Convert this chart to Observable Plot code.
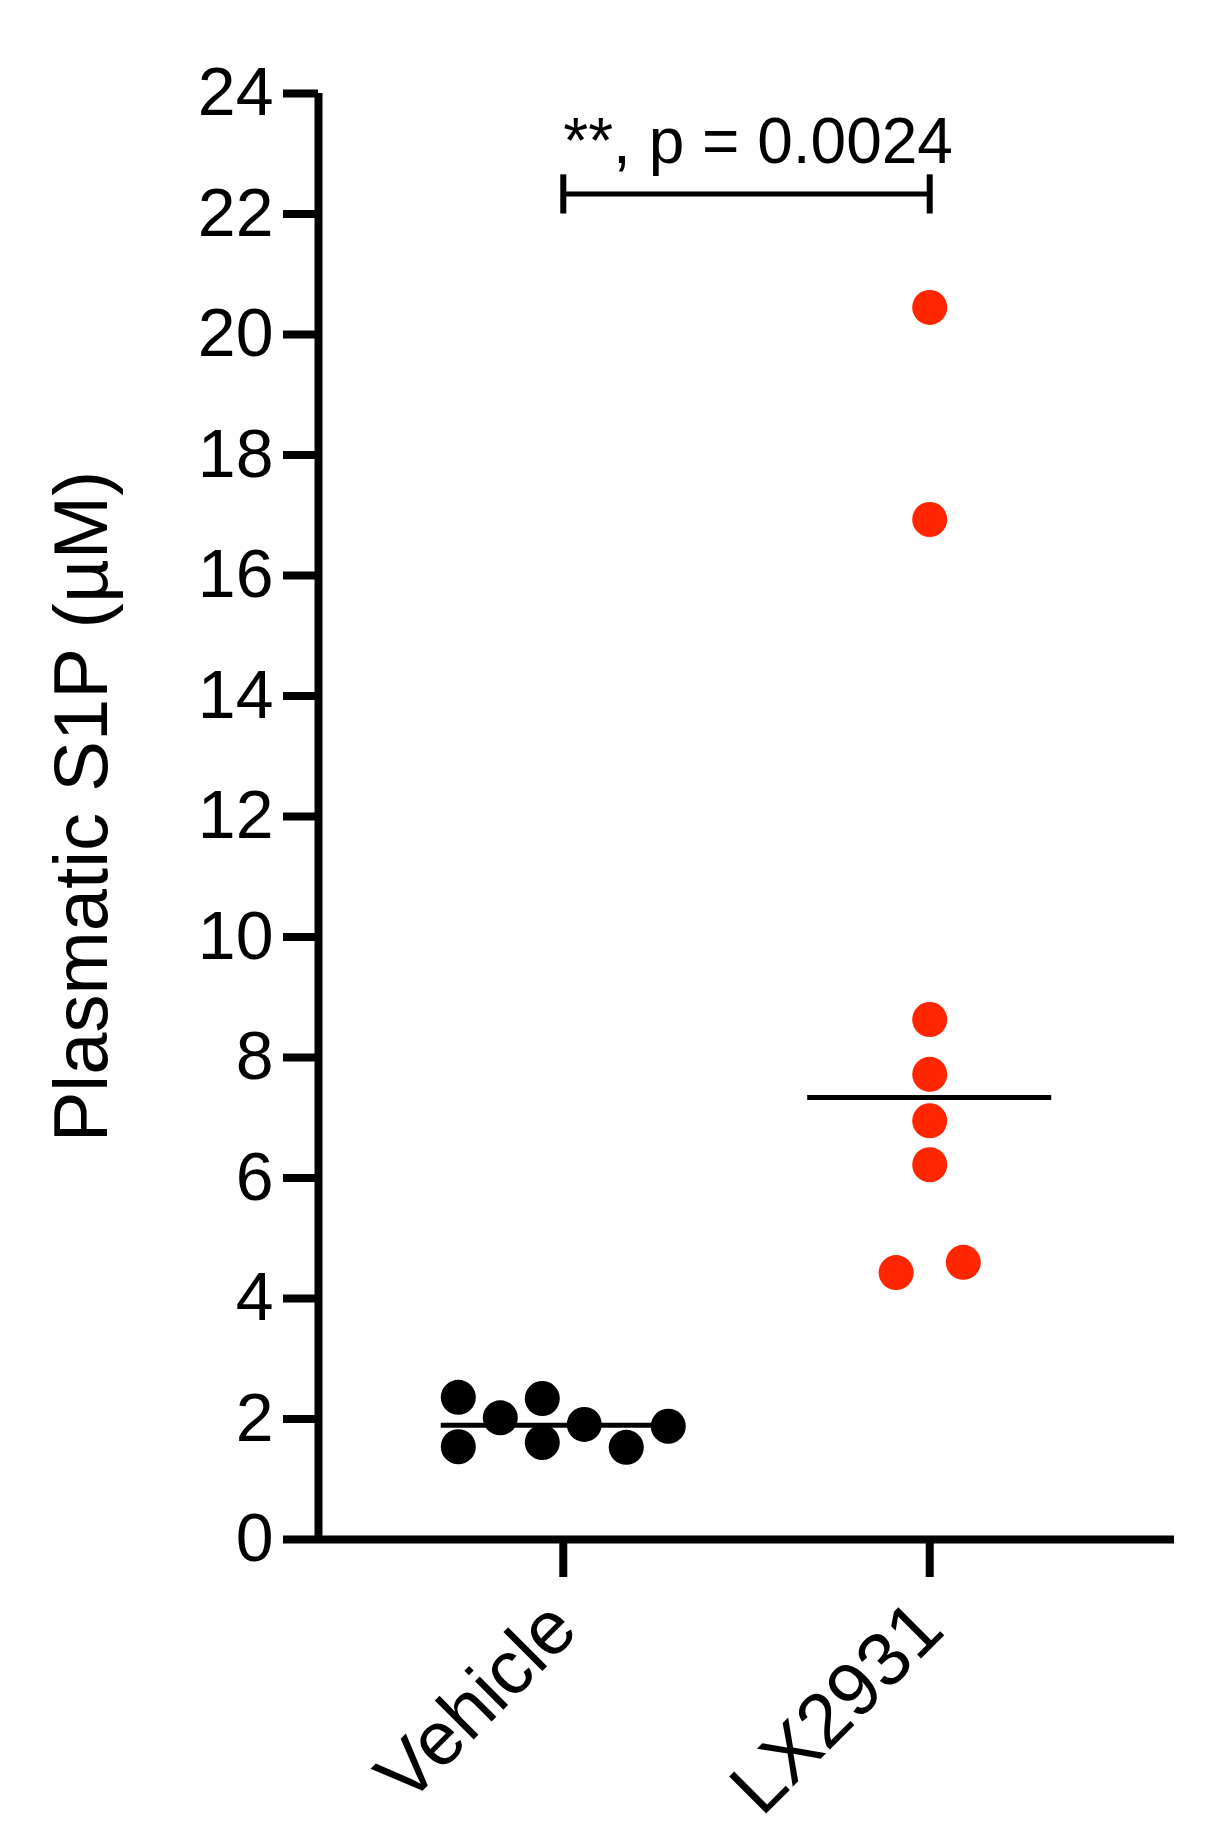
<!DOCTYPE html>
<html>
<head>
<meta charset="utf-8">
<script src="https://cdn.jsdelivr.net/npm/d3@7"></script>
<script src="https://cdn.jsdelivr.net/npm/@observablehq/plot@0.6"></script>
<style>
  html, body { margin: 0; padding: 0; background: #fff; }
  #chart svg { display: block; }
</style>
</head>
<body>
<div id="chart"></div>
<script>
// ---- data ----
const groups = ["Vehicle", "LX2931"];
const vehicleValues = [2.36, 1.54, 2.02, 2.34, 1.61, 1.91, 1.53, 1.88];
const vehicleSlots  = [-2.5, -2.5, -1.5, -0.5, -0.5, 0.5, 1.5, 2.5];
const lx2931Values  = [20.45, 16.93, 8.63, 7.72, 6.95, 6.22, 4.43, 4.60];
const lx2931Slots   = [0, 0, 0, 0, 0, 0, -0.8, 0.8];
const yTicks = [0, 2, 4, 6, 8, 10, 12, 14, 16, 18, 20, 22, 24];
const yLabel = "Plasmatic S1P (µM)";
const pLabel = "**, p = 0.0024";
const bracketY = 22.33;
const bracketCap = [22.0, 22.65];
const pLabelY = 22.84;

// ---- build table ----
const slotWidth = 0.1146;
const colors = ["#000000", "#ff2600"];
const points = [
  ...vehicleValues.map((v, k) => ({g: 0, v, slot: vehicleSlots[k]})),
  ...lx2931Values.map((v, k) => ({g: 1, v, slot: lx2931Slots[k]}))
];
const medians = [vehicleValues, lx2931Values].map((vals, g) => ({g, m: d3.median(vals)}));
const xDomain = [-0.668, 1.668];
const halfLine = 0.333;

const plot = Plot.plot({
  width: 1227,
  height: 1846,
  marginLeft: 318,
  marginRight: 53,
  marginTop: 93,
  marginBottom: 307,
  style: {fontFamily: "'Liberation Sans', Arial, Helvetica, sans-serif", background: "#fff", color: "#000"},
  x: {type: "linear", domain: xDomain},
  y: {domain: [0, 24]},
  marks: [
    // axis lines
    Plot.ruleX([xDomain[0]], {y1: 0, y2: 24, stroke: "#000", strokeWidth: 8}),
    Plot.ruleY([0], {x1: xDomain[0], x2: xDomain[1], stroke: "#000", strokeWidth: 8}),
    Plot.axisY({ticks: yTicks, tickSize: 35, tickPadding: 10, strokeWidth: 8, fontSize: 68, label: null}),
    Plot.axisX({ticks: [0, 1], tickFormat: i => groups[i], tickSize: 38, tickPadding: 38, strokeWidth: 8,
                tickRotate: -45, fontSize: 76, label: null}),
    // y label
    Plot.text([yLabel], {frameAnchor: "left", text: d => d, rotate: -90, fontSize: 76,
                         textAnchor: "middle", lineAnchor: "middle", dx: -236, dy: -10}),
    // median lines
    Plot.ruleY(medians, {x1: d => d.g - halfLine, x2: d => d.g + halfLine, y: "m", stroke: "#000", strokeWidth: 5}),
    // dots
    Plot.dot(points, {x: d => d.g + d.slot * slotWidth, y: "v", r: 17.5,
                      fill: d => colors[d.g], stroke: "none"}),
    // significance bracket
    Plot.ruleY([bracketY], {x1: 0, x2: 1, stroke: "#000", strokeWidth: 5}),
    Plot.ruleX([0, 1], {y1: bracketCap[0], y2: bracketCap[1], stroke: "#000", strokeWidth: 6}),
    Plot.text([pLabel], {x: 0, y: pLabelY, text: d => d, textAnchor: "start", lineAnchor: "bottom",
                         fontSize: 64, fill: "#000"})
  ]
});
document.getElementById("chart").appendChild(plot);
</script>
</body>
</html>
